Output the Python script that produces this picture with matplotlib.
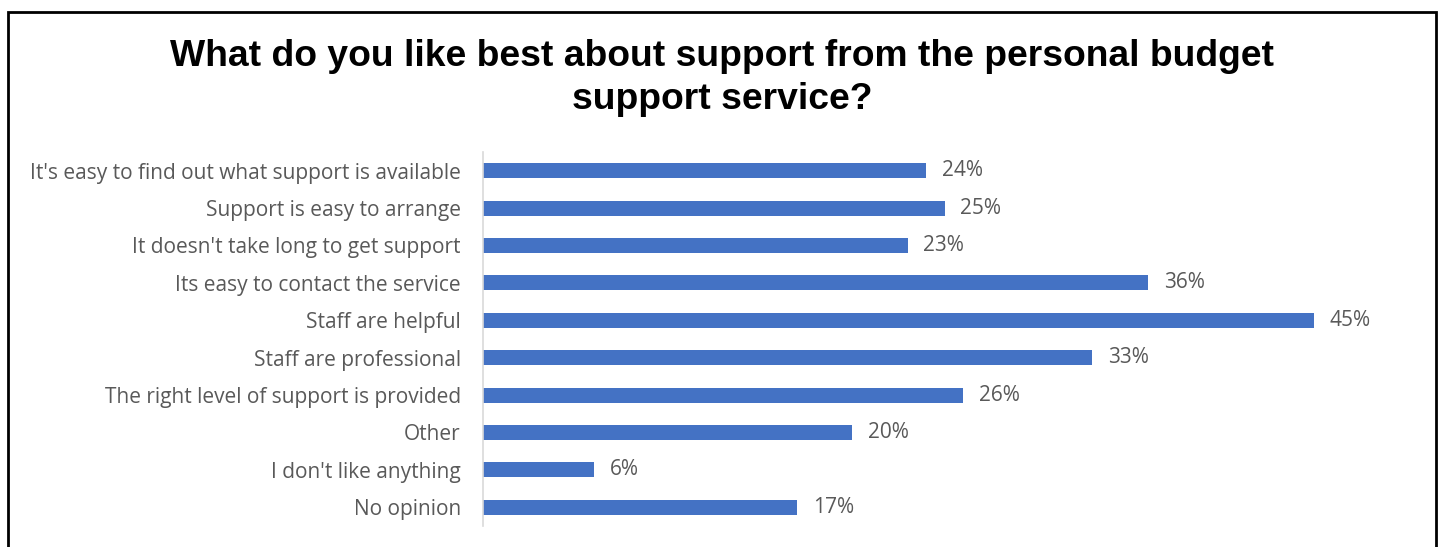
import matplotlib
matplotlib.use("Agg")
import matplotlib.pyplot as plt
from matplotlib.patches import Rectangle

# data, top to bottom
categories = [
    "It's easy to find out what support is available",
    "Support is easy to arrange",
    "It doesn't take long to get support",
    "Its easy to contact the service",
    "Staff are helpful",
    "Staff are professional",
    "The right level of support is provided",
    "Other",
    "I don't like anything",
    "No opinion",
]
values = [24, 25, 23, 36, 45, 33, 26, 20, 6, 17]
value_labels = ["24%", "25%", "23%", "36%", "45%", "33%", "26%", "20%", "6%", "17%"]

title = "What do you like best about support from the personal budget\nsupport service?"

bar_color = "#4472C4"
text_color = "#595959"
label_font = "Open Sans"

W, H = 1440, 547
fig = plt.figure(figsize=(W / 100, H / 100), dpi=100)

left = 483 / W
right = 1369.5 / W
top = 1 - 152 / H
bottom = 1 - 526 / H
ax = fig.add_axes([left, bottom, right - left, top - bottom])

y = list(range(len(categories)))
ax.barh(y, values, height=0.4, color=bar_color)
ax.set_xlim(0, 48)
ax.set_ylim(len(categories) - 0.5, -0.5)

ax.set_yticks(y)
ax.set_yticklabels(categories, fontsize=15, color=text_color, family=label_font)
ax.tick_params(axis="y", length=0, pad=16)
ax.set_xticks([])

for s in ["top", "right", "bottom"]:
    ax.spines[s].set_visible(False)
ax.spines["left"].set_color("#D9D9D9")
ax.spines["left"].set_linewidth(1.2)

for yi, v, lab in zip(y, values, value_labels):
    ax.text(v + 0.85, yi, lab, va="center", ha="left", fontsize=15,
            color=text_color, family=label_font)

fig.text(722 / W, 1 - 78 / H, title, ha="center", va="center",
         fontsize=26.8, fontweight="bold", family="Liberation Sans",
         color="black", linespacing=1.3)

# black frame around the chart area (bottom edge runs off the image)
fig.patches.append(Rectangle((8 / W, -0.05), (1436 - 8) / W, 1.05 - 12 / H,
                             transform=fig.transFigure, fill=False,
                             edgecolor="black", linewidth=2))

fig.savefig("out.png", dpi=100)
